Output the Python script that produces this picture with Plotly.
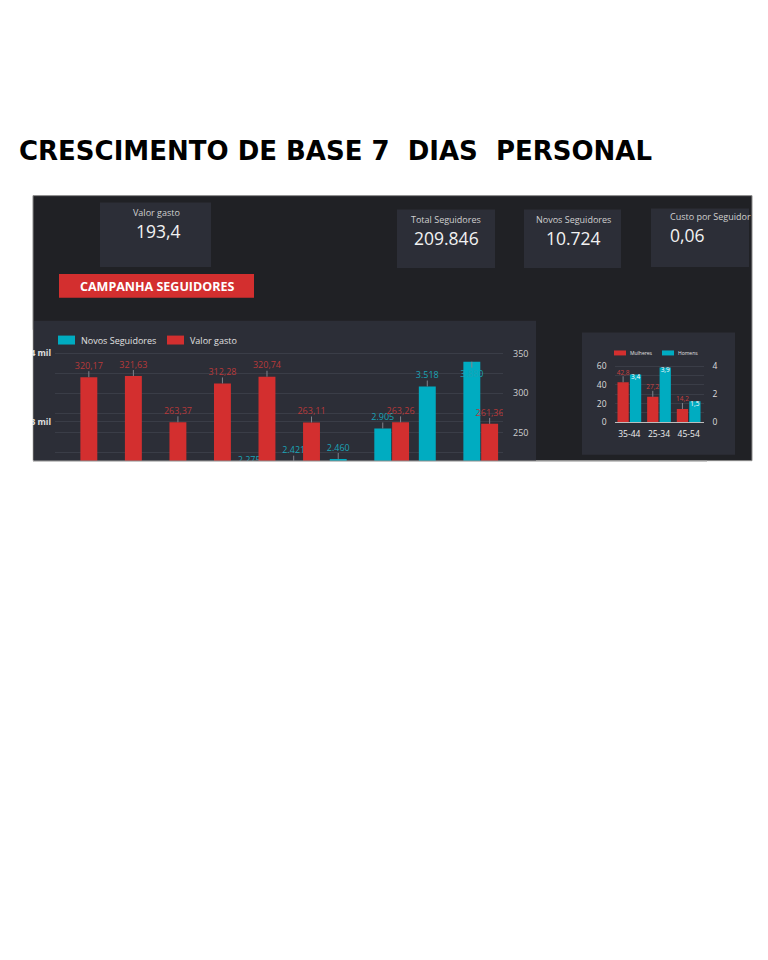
import plotly.graph_objects as go

# the page body has an 8px margin: the figure is drawn from (8, 8)
OFF = 8
W, H = 768 - OFF, 960 - OFF
def px(x): return (x - OFF) / W
def py(y): return 1 - (y - OFF) / H

# ---------------- data ----------------
dias_idx = list(range(10))
novos_seguidores = [None, None, None, None, 2275, 2421, 2460, 2905, 3518, 3880]
valor_gasto = [320.17, 321.63, 263.37, 312.28, 320.74, 263.11, None, 263.26, None, 261.36]

faixas = ["35-44", "25-34", "45-54"]
mulheres = [42.8, 27.2, 14.2]
homens = [3.4, 3.9, 1.5]

kpi_labels = ["Valor gasto", "Total Seguidores", "Novos Seguidores", "Custo por Seguidor"]
kpi_values = ["193,4", "209.846", "10.724", "0,06"]

left_ticks = [3000, 4000]
left_ticktext = ["3 mil", "4 mil"]
right_ticks = [250, 300, 350]

# ---------------- styles ----------------
PANEL = "#202125"
CARD = "#2c2e37"
RED = "#d32f2f"
CYAN = "#00acc1"
RED_TXT = "#b8393a"
CYAN_TXT = "#1aa3b6"
GRID = "#3a3d47"
LEAD_C = "#80838c"
FONT = "Open Sans"

def fmt_mil(v):
    return f"{v:,.0f}".replace(",", ".")

def fmt_dec(v, d):
    return f"{v:.{d}f}".replace(".", ",")

# main chart geometry
M_X0, M_X1, M_Y0, M_Y1 = 55, 503, 346, 462
Y_L = [2435, 4116]
Y_R = [215, 360]
M_H = M_Y1 - M_Y0
LEAD_PX = 6
lead_l = LEAD_PX * (Y_L[1] - Y_L[0]) / M_H
lead_r = LEAD_PX * (Y_R[1] - Y_R[0]) / M_H
txt_l = 16 * (Y_L[1] - Y_L[0]) / M_H

# demo chart geometry
D_X0, D_X1, D_Y0, D_Y1 = 614.5, 703.5, 363, 423.3
D_H = D_Y1 - D_Y0
Y3 = [0, 64]
Y4 = [0, 4.27]
lead_3 = 6 * (Y3[1] - Y3[0]) / D_H

fig = go.Figure()

# ----- main chart: cyan (left axis) -----
up_c, dn_c, lab_y_c, lab_pos_c, lab_x_c, lab_t_c = [], [], [], [], [], []
for i, v in zip(dias_idx, novos_seguidores):
    if v is None:
        continue
    lab_x_c.append(i - 0.2)
    lab_t_c.append(fmt_mil(v))
    if v + lead_l + txt_l > Y_L[1]:
        up_c.append(0); dn_c.append(lead_l)
        lab_y_c.append(v - 2.2 * lead_l); lab_pos_c.append("middle center")
    else:
        up_c.append(lead_l); dn_c.append(0)
        lab_y_c.append(v + lead_l); lab_pos_c.append("top center")

xs_c = [i for i, v in zip(dias_idx, novos_seguidores) if v is not None]
ys_c = [v for v in novos_seguidores if v is not None]
fig.add_trace(go.Bar(
    x=xs_c, y=ys_c, xaxis="x", yaxis="y", name="Novos Seguidores",
    marker=dict(color=CYAN, line=dict(width=0)), width=0.38, offset=-0.39,
    error_y=dict(type="data", symmetric=False, array=up_c, arrayminus=dn_c,
                 width=0, thickness=1, color=LEAD_C),
    showlegend=False, hoverinfo="skip"))

xs_r = [i for i, v in zip(dias_idx, valor_gasto) if v is not None]
ys_r = [v for v in valor_gasto if v is not None]
fig.add_trace(go.Bar(
    x=xs_r, y=ys_r, xaxis="x", yaxis="y2", name="Valor gasto",
    marker=dict(color=RED, line=dict(width=0)), width=0.38, offset=0.01,
    error_y=dict(type="data", symmetric=False, array=[lead_r] * len(ys_r),
                 arrayminus=[0] * len(ys_r), width=0, thickness=1, color=LEAD_C),
    showlegend=False, hoverinfo="skip"))

fig.add_trace(go.Scatter(
    x=lab_x_c, y=lab_y_c, xaxis="x", yaxis="y", mode="text", text=lab_t_c,
    textposition=lab_pos_c, textfont=dict(family=FONT, size=9, color=CYAN_TXT),
    cliponaxis=True, showlegend=False, hoverinfo="skip"))
fig.add_trace(go.Scatter(
    x=[i + 0.2 for i in xs_r], y=[v + lead_r for v in ys_r], xaxis="x", yaxis="y2",
    mode="text", text=[fmt_dec(v, 2) for v in ys_r], textposition="top center",
    textfont=dict(family=FONT, size=9, color=RED_TXT),
    cliponaxis=True, showlegend=False, hoverinfo="skip"))

# ----- demographics chart -----
fx = list(range(len(faixas)))
fig.add_trace(go.Bar(
    x=fx, y=mulheres, xaxis="x2", yaxis="y3", name="Mulheres",
    marker=dict(color=RED, line=dict(width=0)), width=0.38, offset=-0.40,
    error_y=dict(type="data", symmetric=False, array=[lead_3] * len(mulheres),
                 arrayminus=[0] * len(mulheres), width=0, thickness=1, color=LEAD_C),
    showlegend=False, hoverinfo="skip"))
fig.add_trace(go.Bar(
    x=fx, y=homens, xaxis="x2", yaxis="y4", name="Homens",
    marker=dict(color=CYAN, line=dict(width=0)), width=0.38, offset=0.02,
    showlegend=False, hoverinfo="skip"))
fig.add_trace(go.Scatter(
    x=[i - 0.21 for i in fx], y=[v + lead_3 for v in mulheres], xaxis="x2", yaxis="y3",
    mode="text", text=[fmt_dec(v, 1) for v in mulheres], textposition="top center",
    textfont=dict(family=FONT, size=6.5, color="#c9403f"),
    cliponaxis=False, showlegend=False, hoverinfo="skip"))
fig.add_trace(go.Scatter(
    x=[i + 0.21 for i in fx], y=homens, xaxis="x2", yaxis="y4",
    mode="text", text=[fmt_dec(v, 1) for v in homens], textposition="bottom center",
    textfont=dict(family=FONT, size=6.5, color="#ffffff"),
    cliponaxis=False, showlegend=False, hoverinfo="skip"))

# ---------------- shapes ----------------
shapes = []
def rect(x0, y0, x1, y1, fill, line=None, layer="below"):
    shapes.append(dict(type="rect", xref="paper", yref="paper",
                       x0=px(x0), x1=px(x1), y0=py(y1), y1=py(y0),
                       fillcolor=fill, layer=layer,
                       line=dict(width=1 if line else 0, color=line or fill)))

rect(33, 195, 752, 462, PANEL, line="#8a8a8a")
kpi_boxes = [(100, 202, 211, 267), (397, 209, 495, 268), (524, 209, 621, 268), (651, 208, 749, 267)]
for b in kpi_boxes:
    rect(*b, CARD)
rect(59, 274, 254, 298, RED)
rect(34, 321, 536, 462, CARD)
rect(582, 333, 735, 456, CARD)
# legend swatches
rect(58, 336, 75, 345, CYAN)
rect(167, 336, 184, 345, RED)
rect(614, 351, 626, 356, RED)
rect(662, 351, 674, 356, CYAN)
# clip the left side of the left tick labels (screenshot edge)
rect(0, 330, 32.5, 470, "#ffffff", layer="above")
shapes.append(dict(type="line", xref="paper", yref="paper", x0=px(33), x1=px(707),
                   y0=py(462.5), y1=py(462.5), line=dict(color="#b0b0b0", width=1),
                   layer="above"))

# ---------------- annotations ----------------
ann = []
def text(x, y, s, size, color, xanchor="center", weight="normal", family=FONT):
    ann.append(dict(xref="paper", yref="paper", x=px(x), y=py(y), text=s,
                    showarrow=False, xanchor=xanchor, yanchor="middle",
                    font=dict(family=family, size=size, color=color, weight=weight)))

text(17, 150, "CRESCIMENTO DE BASE 7\u00a0 DIAS\u00a0 PERSONAL", 26, "#000000",
     xanchor="left", weight="bold", family="DejaVu Sans")

kpi_pos = [(156, 212, 158, 231, "center"), (446, 219, 446, 238, "center"),
           (573, 219, 573, 238, "center"), (668, 216, 668, 235, "left")]
for (lx, ly, vx, vy, anc), lab, val in zip(kpi_pos, kpi_labels, kpi_values):
    text(lx, ly, lab, 9, "#d0d0d0", xanchor=anc)
    text(vx, vy, val, 17.5, "#f2f2f2", xanchor=anc)

text(156.5, 287, "CAMPANHA SEGUIDORES", 12.5, "#ffffff", weight="bold")
text(79, 340.5, "Novos Seguidores", 9, "#e0e0e0", xanchor="left")
text(188, 340.5, "Valor gasto", 9, "#e0e0e0", xanchor="left")
text(628, 354, "Mulheres", 5, "#e0e0e0", xanchor="left")
text(676, 354, "Homens", 5, "#e0e0e0", xanchor="left")

fig.update_layout(
    width=W, height=H, margin=dict(l=0, r=0, t=0, b=0),
    paper_bgcolor="#ffffff", plot_bgcolor="rgba(0,0,0,0)",
    barmode="overlay", shapes=shapes, annotations=ann,
    xaxis=dict(domain=[px(M_X0), px(M_X1)], anchor="y", range=[-0.56, 9.5],
               showgrid=False, zeroline=False, showticklabels=False, ticks=""),
    yaxis=dict(domain=[py(M_Y1), py(M_Y0)], anchor="x", range=Y_L,
               tickvals=left_ticks, ticktext=left_ticktext, showgrid=True,
               gridcolor=GRID, zeroline=False, ticks="", ticklabelstandoff=3,
               tickfont=dict(family=FONT, size=8.5, color="#e0e0e0", weight="bold")),
    yaxis2=dict(overlaying="y", side="right", anchor="x", range=Y_R,
                tickvals=right_ticks, showgrid=True, gridcolor=GRID, zeroline=False,
                minor=dict(dtick=25, showgrid=True, gridcolor=GRID, ticks=""),
                ticks="", ticklabelstandoff=9,
                tickfont=dict(family=FONT, size=9, color="#cfcfcf")),
    xaxis2=dict(domain=[px(D_X0), px(D_X1)], anchor="y3", range=[-0.5, 2.5],
                tickvals=fx, ticktext=faixas, showgrid=False, zeroline=False,
                showline=True, linecolor="#bdbdbd", linewidth=1, ticks="",
                ticklabelstandoff=4,
                tickfont=dict(family=FONT, size=8.5, color="#eeeeee")),
    yaxis3=dict(domain=[py(D_Y1), py(D_Y0)], anchor="x2", range=Y3,
                tickvals=[0, 20, 40, 60], showgrid=True, gridcolor=GRID, zeroline=False,
                minor=dict(dtick=10, showgrid=True, gridcolor=GRID, ticks=""),
                ticks="", ticklabelstandoff=7,
                tickfont=dict(family=FONT, size=8.5, color="#dddddd")),
    yaxis4=dict(overlaying="y3", side="right", anchor="x2", range=Y4,
                tickvals=[0, 2, 4], showgrid=False, zeroline=False, ticks="",
                ticklabelstandoff=8,
                tickfont=dict(family=FONT, size=8.5, color="#dddddd")),
)

fig.write_html("out.html")
